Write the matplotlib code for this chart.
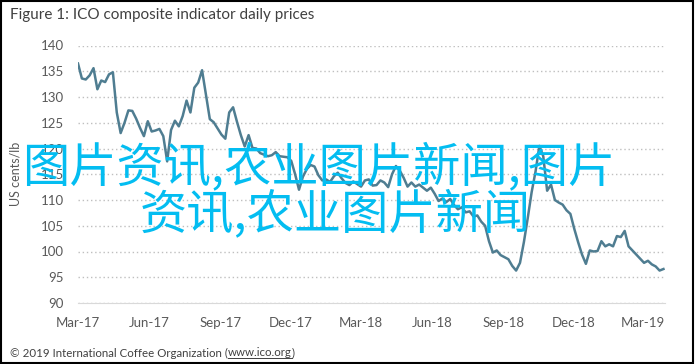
import pandas as pd
import matplotlib
matplotlib.use('Agg')
import matplotlib.pyplot as plt
import matplotlib.dates as mdates
from matplotlib.patches import Rectangle
from matplotlib.lines import Line2D

# ICO composite indicator, US cents/lb, read roughly every 5 days
prices = [136.5, 133.6, 133.4, 134.2, 135.6, 131.5, 133.2, 132.9, 134.4, 134.8,
          127.0, 123.0, 125.0, 127.4, 127.3, 125.8, 124.0, 122.4, 125.3, 123.3,
          123.5, 123.8, 122.4, 117.5, 123.6, 125.4, 124.3, 126.3, 129.3, 127.0,
          131.8, 132.8, 135.2, 130.5, 125.7, 125.1, 123.9, 122.7, 121.9, 127.0,
          128.0, 125.2, 122.6, 120.4, 122.6, 120.1, 120.0, 119.1, 118.8, 118.5,
          118.7, 119.3, 118.5, 118.4, 118.3, 117.6, 115.0, 112.0, 114.5, 116.0,
          116.8, 116.5, 114.8, 113.8, 114.0, 113.5, 114.6, 115.3, 114.2, 113.3,
          112.9, 113.6, 113.1, 112.6, 113.8, 114.0, 112.8, 112.9, 113.8, 113.4,
          112.5, 115.0, 116.6, 115.7, 114.3, 112.6, 113.4, 112.6, 113.0, 112.4,
          111.8, 112.4, 111.2, 109.8, 110.3, 109.6, 110.2, 109.0, 108.2, 108.6,
          107.6, 107.8, 106.8, 107.0, 105.8, 105.0, 102.0, 99.8, 100.2, 99.3,
          98.9, 98.5, 97.2, 96.3, 97.8, 101.8, 106.5, 111.5, 115.5, 120.5,
          118.5, 111.8, 113.0, 110.0, 109.5, 109.1, 108.0, 107.3, 104.4, 101.8,
          99.4, 97.6, 100.2, 100.0, 100.1, 102.0, 101.0, 101.4, 101.0, 103.0,
          102.8, 104.0, 101.0, 100.2, 99.4, 98.6, 97.8, 98.2, 97.5, 97.1,
          96.3, 96.6]
dates = pd.date_range('2017-03-01', '2019-03-27', periods=len(prices))

y_ticks = list(range(90, 141, 5))
title = 'Figure 1: ICO composite indicator daily prices'
y_label = 'US cents/lb'
footer = '\u00a9 2019 International Coffee Organization ('
footer_link = 'www.ico.org'
overlay_1 = '图片资讯,农业图片新闻,图片'
overlay_2 = '资讯,农业图片新闻'

plt.rcParams['font.family'] = ['Lato', 'DejaVu Sans']

fig = plt.figure(figsize=(6.95, 3.64), dpi=100)
ax = fig.add_axes([78 / 695, 1 - 303 / 364, 587 / 695, 257.5 / 364])

ax.plot(dates, prices, color='#4f7d91', linewidth=1.8)

ax.set_ylim(90, 140)
ax.set_xlim(pd.Timestamp('2017-03-01'), pd.Timestamp('2019-03-29'))
ax.set_yticks(y_ticks)
ax.xaxis.set_major_locator(mdates.MonthLocator(bymonth=[3, 6, 9, 12]))
ax.xaxis.set_major_formatter(mdates.DateFormatter('%b-%y'))
ax.tick_params(axis='both', length=0, labelsize=9.5, colors='#595959')
ax.tick_params(axis='y', pad=10)
ax.tick_params(axis='x', pad=10)

for s in ['top', 'right', 'left']:
    ax.spines[s].set_visible(False)
ax.spines['bottom'].set_color('#d9d9d9')
ax.yaxis.grid(True, linestyle=(0, (1, 2)), color='#bfbfbf', linewidth=1)
ax.set_axisbelow(True)
ax.set_ylabel(y_label, fontsize=9, color='#595959', labelpad=14)

fig.text(10 / 695, 1 - 15 / 364, title, fontsize=11, color='#404040', va='center')

# footer with underlined link
f1 = fig.text(10 / 695, 1 - 353 / 364, footer, fontsize=8.3, color='#404040', va='center')
r = fig.canvas.get_renderer()
bb = f1.get_window_extent(r)
f2 = fig.text(bb.x1 / 695, 1 - 353 / 364, footer_link, fontsize=8.3, color='#404040', va='center')
bb2 = f2.get_window_extent(r)
fig.text(bb2.x1 / 695, 1 - 353 / 364, ')', fontsize=8.3, color='#404040', va='center')
fig.add_artist(Line2D([bb2.x0 / 695, bb2.x1 / 695], [(bb2.y0 + 1) / 364] * 2,
                      color='#404040', linewidth=0.7))

# cyan watermark text over the chart
fig.text(22 / 695, 1 - 168 / 364, overlay_1, fontsize=34, color='#03bdf1',
         family=['Noto Sans CJK SC', 'DejaVu Sans'], va='center', ha='left')
fig.text(140 / 695, 1 - 215 / 364, overlay_2, fontsize=34, color='#03bdf1',
         family=['Noto Sans CJK SC', 'DejaVu Sans'], va='center', ha='left')

fig.add_artist(Rectangle((0.002, 0.004), 0.995, 0.992, transform=fig.transFigure,
                         fill=False, edgecolor='black', linewidth=1.5))

fig.savefig('out.png', dpi=100)
